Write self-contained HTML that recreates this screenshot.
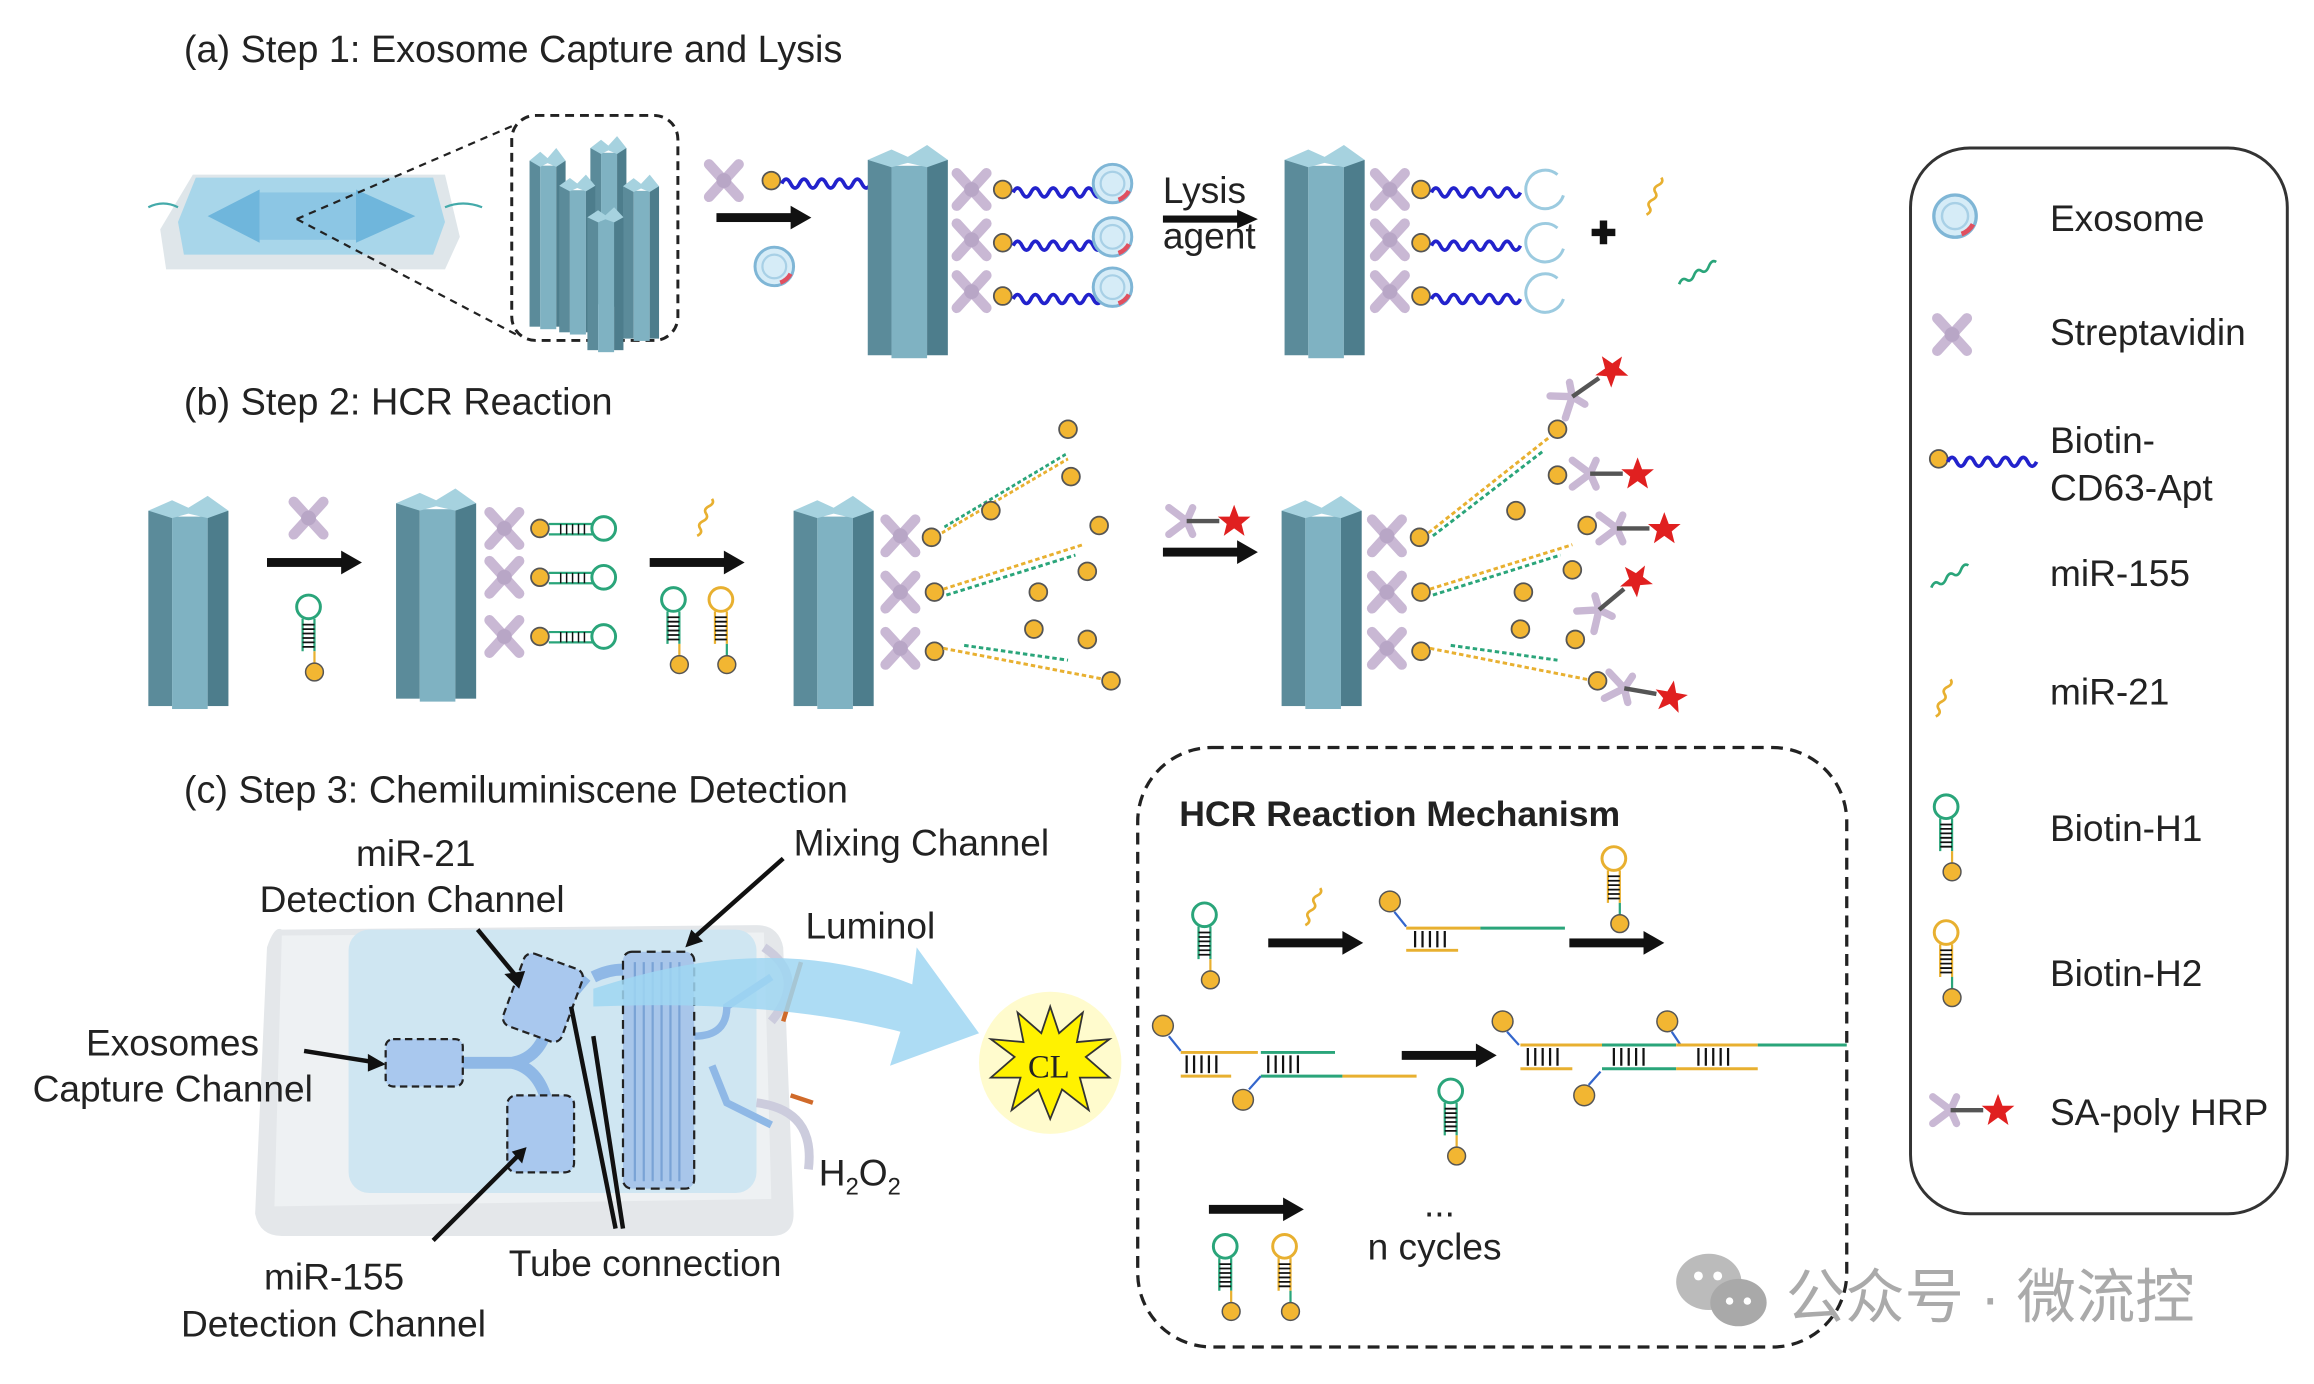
<!DOCTYPE html>
<html><head><meta charset="utf-8"><style>
html,body{margin:0;padding:0;background:#fff}
svg{display:block}
text{font-family:"Liberation Sans","Noto Sans CJK SC",sans-serif;fill:#222}
</style></head><body>
<svg width="2314" height="1384" viewBox="0 0 1560 935" preserveAspectRatio="none" xmlns="http://www.w3.org/2000/svg">
<defs>
<g id="pil">
<rect x="0" y="10" width="16" height="132" fill="#5b8b9a"/>
<rect x="16" y="14" width="24" height="130" fill="#7fb2c2"/>
<rect x="40" y="10" width="14" height="132" fill="#4d7d8c"/>
<polygon points="0,10 16,3 27,8 40,0 54,10 40,15 27,12 16,15" fill="#a6d2df"/>
</g>
<g id="sa"><path d="M-10,-11 L0,0 L-10,11 M10,-11 L0,0 L10,11" stroke="#c9b8d4" stroke-width="7" stroke-linecap="round" fill="none"/><circle r="5" fill="#b8a6c6"/></g>
<circle id="bio" r="6" fill="#f2b632" stroke="#555" stroke-width="1.2"/>
<path id="apt" d="M0,0 q3,-6 6,0 t6,0 t6,0 t6,0 t6,0 t6,0 t6,0 t6,0 t6,0 t6,0" fill="none" stroke="#2222cc" stroke-width="2.5"/>
<g id="exo"><circle r="13" fill="#d6ecf7" stroke="#7fb6d6" stroke-width="2"/><circle r="8" fill="none" stroke="#a8d0e6" stroke-width="1.5"/><path d="M4,11 a13,13 0 0 0 7,-6" stroke="#e05060" stroke-width="3" fill="none"/></g>
<g id="h1"><circle cx="0" cy="0" r="8" fill="#fff" stroke="#2aa57a" stroke-width="2"/><path d="M-4,8 v22 M4,8 v22" stroke="#2aa57a" stroke-width="1.5"/><path d="M-4,12h8M-4,15h8M-4,18h8M-4,21h8M-4,24h8M-4,27h8" stroke="#111" stroke-width="1.2"/><path d="M4,30 v8" stroke="#e8b030" stroke-width="1.5"/><circle cx="4" cy="44" r="6" fill="#f2b632" stroke="#555" stroke-width="1"/></g>
<g id="h2"><circle cx="0" cy="0" r="8" fill="#fff" stroke="#e8b030" stroke-width="2"/><path d="M-4,8 v22 M4,8 v22" stroke="#e8b030" stroke-width="1.5"/><path d="M-4,12h8M-4,15h8M-4,18h8M-4,21h8M-4,24h8M-4,27h8" stroke="#111" stroke-width="1.2"/><path d="M4,30 v8" stroke="#2aa57a" stroke-width="1.5"/><circle cx="4" cy="44" r="6" fill="#f2b632" stroke="#555" stroke-width="1"/></g>
<g id="hrp"><path d="M-12,-9 L0,0 L-12,9 M4,-9 L0,0 L4,9" stroke="#c9b8d4" stroke-width="5" stroke-linecap="round" fill="none"/><path d="M0,0 H22" stroke="#555" stroke-width="3"/><polygon points="32,-11 35,-3 43,-3 37,2 39,10 32,5 25,10 27,2 21,-3 29,-3" fill="#e02020"/></g>
<path id="m21" d="M0,0 q4,-2 2,-5 t2,-5 t2,-5 t2,-5 t2,-5" fill="none" stroke="#e8b030" stroke-width="1.8"/>
<path id="m155" d="M0,0 q2,-5 5,-3 t5,-3 t5,-3 t5,-3 t5,-3" fill="none" stroke="#2aa57a" stroke-width="1.8"/>
<g id="arr"><rect x="0" y="-3" width="52" height="6" fill="#111"/><polygon points="50,-8 64,0 50,8" fill="#111"/></g>
<g id="hyb"><path d="M0,0 l100,-50" stroke="#e8b030" stroke-width="2" stroke-dasharray="3 2"/><path d="M2,-4 l98,-50" stroke="#2aa57a" stroke-width="2" stroke-dasharray="3 2"/></g>
</defs>

<!-- (a) -->
<text x="124" y="42" font-size="25.5">(a) Step 1: Exosome Capture and Lysis</text>
<polygon points="108,155 130,118 300,118 310,160 300,182 112,182" fill="#dfe6ea"/>
<polygon points="120,150 132,120 292,120 300,150 292,172 124,172" fill="#a8d6ea"/>
<polygon points="140,146 175,128 175,164" fill="#6fb6dc"/>
<polygon points="280,146 240,128 240,164" fill="#6fb6dc"/>
<rect x="175" y="130" width="65" height="32" fill="#8cc6e4"/>
<path d="M100,140 q10,-5 20,0 M300,140 q12,-5 25,0" stroke="#4aa" fill="none" stroke-width="1.5"/>
<path d="M200,148 L348,84 M200,148 L348,226" stroke="#222" stroke-width="1.5" stroke-dasharray="5 4"/>
<rect x="345" y="78" width="112" height="152" rx="16" fill="none" stroke="#222" stroke-width="2" stroke-dasharray="6 4"/>
<use href="#pil" transform="translate(357,100) scale(0.45,0.85)"/>
<use href="#pil" transform="translate(398,92) scale(0.45,0.8)"/>
<use href="#pil" transform="translate(377,118) scale(0.45,0.75)"/>
<use href="#pil" transform="translate(420,118) scale(0.45,0.78)"/>
<use href="#pil" transform="translate(396,140) scale(0.45,0.68)"/>
<use href="#sa" transform="translate(488,122)"/><use href="#bio" x="520" y="122"/><use href="#apt" x="527" y="124"/>
<use href="#exo" transform="translate(522,180)"/>
<use href="#arr" transform="translate(483,147)"/>
<use href="#pil" transform="translate(585,98)"/>
<g id="rowA">
<use href="#sa" transform="translate(655,128)"/><use href="#bio" x="676" y="128"/><use href="#apt" x="683" y="130"/>
<use href="#sa" transform="translate(655,162)"/><use href="#bio" x="676" y="164"/><use href="#apt" x="683" y="166"/>
<use href="#sa" transform="translate(655,197)"/><use href="#bio" x="676" y="200"/><use href="#apt" x="683" y="202"/>
</g>
<use href="#exo" transform="translate(750,124)"/><use href="#exo" transform="translate(750,160)"/><use href="#exo" transform="translate(750,194)"/>
<text x="784" y="137" font-size="25">Lysis</text><text x="784" y="168" font-size="25">agent</text>
<use href="#arr" transform="translate(784,148) scale(1,0.8)"/>
<use href="#pil" transform="translate(866,98)"/>
<use href="#rowA" transform="translate(282,0)"/>
<g fill="none" stroke="#9ccbe0" stroke-width="2"><path d="M1050,118 a13,13 0 1 0 4,14"/><path d="M1050,154 a13,13 0 1 0 4,14"/><path d="M1050,188 a13,13 0 1 0 4,14"/></g>
<path d="M1073,157 h16 M1081,149 v16" stroke="#111" stroke-width="5"/>
<use href="#m21" transform="translate(1110,145)"/>
<use href="#m155" transform="translate(1132,192)"/>

<!-- (b) -->
<text x="124" y="280" font-size="25.5">(b) Step 2: HCR Reaction</text>
<use href="#pil" transform="translate(100,335)"/>
<use href="#sa" transform="translate(208,350)"/>
<use href="#arr" transform="translate(180,380)"/>
<use href="#h1" transform="translate(208,410)"/>
<use href="#pil" transform="translate(267,330)"/>
<g id="rowB">
<use href="#sa" transform="translate(340,357)"/><use href="#bio" x="364" y="357"/>
<path d="M370,354 h30 M370,361 h30" stroke="#2aa57a" stroke-width="1.5"/><path d="M378,354v7M382,354v7M386,354v7M390,354v7M394,354v7" stroke="#111"/><circle cx="407" cy="357" r="8" fill="#fff" stroke="#2aa57a" stroke-width="2"/>
</g>
<use href="#rowB" transform="translate(0,33)"/><use href="#rowB" transform="translate(0,73)"/>
<use href="#m21" transform="translate(470,362)"/>
<use href="#arr" transform="translate(438,380)"/>
<use href="#h1" transform="translate(454,405)"/><use href="#h2" transform="translate(486,405)"/>
<use href="#pil" transform="translate(535,335)"/>
<g id="rowC">
<use href="#sa" transform="translate(607,362)"/><use href="#bio" x="628" y="363"/>
<use href="#hyb" transform="translate(635,360) scale(0.85,1)"/>
<use href="#bio" x="720" y="290"/><use href="#bio" x="722" y="322"/><use href="#bio" x="668" y="345"/>
</g>
<use href="#sa" transform="translate(607,400)"/><use href="#bio" x="630" y="400"/>
<path d="M636,398 L730,368" stroke="#e8b030" stroke-width="2" stroke-dasharray="3 2"/><path d="M638,402 L725,375" stroke="#2aa57a" stroke-width="2" stroke-dasharray="3 2"/>
<use href="#bio" x="741" y="355"/><use href="#bio" x="733" y="386"/><use href="#bio" x="700" y="400"/>
<use href="#sa" transform="translate(607,438)"/><use href="#bio" x="630" y="440"/>
<path d="M636,438 L750,460" stroke="#e8b030" stroke-width="2" stroke-dasharray="3 2"/><path d="M650,436 L720,446" stroke="#2aa57a" stroke-width="2" stroke-dasharray="3 2"/>
<use href="#bio" x="697" y="425"/><use href="#bio" x="733" y="432"/><use href="#bio" x="749" y="460"/>
<use href="#hrp" transform="translate(800,352)"/>
<use href="#arr" transform="translate(784,373)"/>
<use href="#pil" transform="translate(864,335)"/>
<use href="#sa" transform="translate(935,362)"/><use href="#bio" x="957" y="363"/>
<path d="M963,360 L1045,295" stroke="#e8b030" stroke-width="2" stroke-dasharray="3 2"/><path d="M966,362 L1040,305" stroke="#2aa57a" stroke-width="2" stroke-dasharray="3 2"/>
<use href="#bio" x="1050" y="290"/><use href="#bio" x="1050" y="321"/><use href="#bio" x="1022" y="345"/>
<use href="#sa" transform="translate(935,400)"/><use href="#bio" x="958" y="400"/>
<path d="M964,398 L1060,368" stroke="#e8b030" stroke-width="2" stroke-dasharray="3 2"/><path d="M966,402 L1052,375" stroke="#2aa57a" stroke-width="2" stroke-dasharray="3 2"/>
<use href="#bio" x="1070" y="355"/><use href="#bio" x="1060" y="385"/><use href="#bio" x="1027" y="400"/>
<use href="#sa" transform="translate(935,438)"/><use href="#bio" x="958" y="440"/>
<path d="M964,438 L1075,460" stroke="#e8b030" stroke-width="2" stroke-dasharray="3 2"/><path d="M978,436 L1050,446" stroke="#2aa57a" stroke-width="2" stroke-dasharray="3 2"/>
<use href="#bio" x="1025" y="425"/><use href="#bio" x="1062" y="432"/><use href="#bio" x="1077" y="460"/>
<use href="#hrp" transform="translate(1060,268) rotate(-35)"/>
<use href="#hrp" transform="translate(1072,320)"/>
<use href="#hrp" transform="translate(1090,357)"/>
<use href="#hrp" transform="translate(1078,412) rotate(-40)"/>
<use href="#hrp" transform="translate(1095,465) rotate(10)"/>

<!-- legend -->
<rect x="1288" y="100" width="254" height="720" rx="40" fill="#fff" stroke="#333" stroke-width="2"/>
<use href="#exo" transform="translate(1318,146) scale(1.1)"/>
<text x="1382" y="156" font-size="25">Exosome</text>
<use href="#sa" transform="translate(1316,226)"/>
<text x="1382" y="233" font-size="25">Streptavidin</text>
<use href="#bio" x="1307" y="310"/><use href="#apt" x="1313" y="312"/>
<text x="1382" y="306" font-size="25">Biotin-</text><text x="1382" y="338" font-size="25">CD63-Apt</text>
<use href="#m155" transform="translate(1302,397)"/>
<text x="1382" y="396" font-size="25">miR-155</text>
<use href="#m21" transform="translate(1305,484)"/>
<text x="1382" y="476" font-size="25">miR-21</text>
<use href="#h1" transform="translate(1312,545)"/>
<text x="1382" y="568" font-size="25">Biotin-H1</text>
<use href="#h2" transform="translate(1312,630)"/>
<text x="1382" y="666" font-size="25">Biotin-H2</text>
<use href="#hrp" transform="translate(1315,750)"/>
<text x="1382" y="760" font-size="25">SA-poly HRP</text>

<!-- (c) -->
<text x="124" y="542" font-size="25.5">(c) Step 3: Chemiluminiscene Detection</text>
<path d="M190,628 Q185,625 180,640 L172,820 Q175,835 190,835 L520,835 Q535,835 535,820 L528,640 Q525,625 510,625 Z" fill="#e4e7ea"/>
<path d="M190,632 L515,630 L520,810 L185,815 Z" fill="#eef1f3"/>
<rect x="235" y="628" width="275" height="178" rx="14" fill="#cfe6f2"/>
<path d="M310,718 L345,718 Q365,715 370,690 L395,660 M345,718 Q365,722 370,750 L380,790 M400,660 Q420,650 440,660" stroke="#8fb8e6" stroke-width="8" fill="none"/>
<path d="M468,700 Q490,700 490,680 L520,660 M480,720 L490,745 L520,760" stroke="#8fb8e6" stroke-width="5" fill="none"/>
<rect x="260" y="702" width="52" height="32" rx="5" fill="#a9c8ee" stroke="#222" stroke-width="1.5" stroke-dasharray="5 3"/>
<rect x="345" y="648" width="42" height="52" rx="6" fill="#a9c8ee" stroke="#222" stroke-width="1.5" stroke-dasharray="5 3" transform="rotate(20 366 674)"/>
<rect x="342" y="740" width="45" height="52" rx="6" fill="#a9c8ee" stroke="#222" stroke-width="1.5" stroke-dasharray="5 3"/>
<rect x="420" y="643" width="48" height="160" rx="6" fill="#a8c6ea" stroke="#222" stroke-width="1.5" stroke-dasharray="6 4"/>
<path d="M428,650v148M434,650v148M440,650v148M446,650v148M452,650v148M458,650v148" stroke="#7aa3d6" stroke-width="1.5"/>
<path d="M515,640 Q545,660 520,690" stroke="#ccd" stroke-width="6" fill="none"/>
<path d="M510,745 Q550,750 545,790" stroke="#ccd" stroke-width="6" fill="none"/>
<path d="M540,650 L528,690 M548,745 L533,740" stroke="#d06a2a" stroke-width="3"/>
<path d="M400,668 Q520,628 615,665 L618,640 L660,698 L600,720 L607,697 Q520,675 400,680 Z" fill="#9fd6f2" opacity="0.85"/>
<circle cx="708" cy="718" r="48" fill="#fffac0" opacity="0.8"/>
<polygon points="708,680 714,698 730,684 726,704 748,702 732,714 748,728 728,728 734,750 716,736 708,756 700,736 682,750 688,728 668,728 684,714 668,702 690,704 686,684 702,698" fill="#fff200" stroke="#333" stroke-width="1.2"/>
<text x="693" y="728" font-size="22" style="font-family:'Liberation Serif',serif">CL</text>
<text x="240" y="585" font-size="25">miR-21</text>
<text x="175" y="616" font-size="25">Detection Channel</text>
<text x="535" y="578" font-size="25">Mixing Channel</text>
<text x="543" y="634" font-size="25">Luminol</text>
<text x="58" y="713" font-size="25">Exosomes</text>
<text x="22" y="744" font-size="25">Capture Channel</text>
<text x="552" y="801" font-size="25">H<tspan font-size="16" dy="6">2</tspan><tspan dy="-6">O</tspan><tspan font-size="16" dy="6">2</tspan></text>
<text x="178" y="871" font-size="25">miR-155</text>
<text x="122" y="903" font-size="25">Detection Channel</text>
<text x="343" y="862" font-size="25">Tube connection</text>
<g stroke="#111" stroke-width="3" fill="none">
<path d="M322,628 L350,662"/><path d="M528,580 L465,636"/><path d="M205,710 L255,718"/>
<path d="M292,838 L350,780"/><path d="M415,830 L385,680"/><path d="M420,830 L400,700"/>
</g>
<polygon points="350,668 340,658 354,656" fill="#111"/><polygon points="462,640 466,628 474,636" fill="#111"/>
<polygon points="260,719 248,712 248,724" fill="#111"/><polygon points="355,775 345,778 352,786" fill="#111"/>

<!-- HCR box -->
<rect x="767" y="505" width="478" height="405" rx="50" fill="none" stroke="#222" stroke-width="2.2" stroke-dasharray="8 5"/>
<text x="795" y="558" font-size="24" font-weight="bold">HCR Reaction Mechanism</text>
<use href="#h1" transform="translate(812,618)"/>
<use href="#m21" transform="translate(880,625)"/>
<use href="#arr" transform="translate(855,637)"/>
<circle cx="937" cy="609" r="7" fill="#f2b632" stroke="#555"/>
<path d="M940,616 l8,10" stroke="#3366cc" stroke-width="1.5"/>
<path d="M948,627 H998" stroke="#e8b030" stroke-width="2"/><path d="M998,627 H1055" stroke="#2aa57a" stroke-width="2"/>
<path d="M948,642 H983" stroke="#e8b030" stroke-width="2"/>
<path d="M954,629v11M959,629v11M964,629v11M969,629v11M974,629v11" stroke="#111" stroke-width="1.5"/>
<use href="#h2" transform="translate(1088,580)"/>
<use href="#arr" transform="translate(1058,637)"/>
<circle cx="784" cy="693" r="7" fill="#f2b632" stroke="#555"/>
<path d="M788,700 l8,10" stroke="#3366cc" stroke-width="1.5"/>
<path d="M796,711 H848" stroke="#e8b030" stroke-width="2"/><path d="M850,711 H900" stroke="#2aa57a" stroke-width="2"/>
<path d="M796,727 H830" stroke="#e8b030" stroke-width="2"/><path d="M850,727 H905" stroke="#2aa57a" stroke-width="2"/><path d="M905,727 H955" stroke="#e8b030" stroke-width="2"/>
<path d="M800,713v12M805,713v12M810,713v12M815,713v12M820,713v12M855,713v12M860,713v12M865,713v12M870,713v12M875,713v12" stroke="#111" stroke-width="1.5"/>
<circle cx="838" cy="743" r="7" fill="#f2b632" stroke="#555"/><path d="M842,736 l8,-9" stroke="#3366cc" stroke-width="1.5"/>
<use href="#arr" transform="translate(945,713)"/>
<use href="#h1" transform="translate(978,737)"/>
<circle cx="1013" cy="690" r="7" fill="#f2b632" stroke="#555"/><path d="M1016,697 l8,9" stroke="#3366cc" stroke-width="1.5"/>
<circle cx="1124" cy="690" r="7" fill="#f2b632" stroke="#555"/><path d="M1127,697 l6,9" stroke="#3366cc" stroke-width="1.5"/>
<circle cx="1068" cy="740" r="7" fill="#f2b632" stroke="#555"/><path d="M1071,733 l8,-9" stroke="#3366cc" stroke-width="1.5"/>
<path d="M1025,706 H1080" stroke="#e8b030" stroke-width="2"/><path d="M1080,706 H1130" stroke="#2aa57a" stroke-width="2"/><path d="M1130,706 H1185" stroke="#e8b030" stroke-width="2"/><path d="M1185,706 H1245" stroke="#2aa57a" stroke-width="2"/>
<path d="M1025,722 H1060" stroke="#e8b030" stroke-width="2"/><path d="M1080,722 H1130" stroke="#2aa57a" stroke-width="2"/><path d="M1130,722 H1185" stroke="#e8b030" stroke-width="2"/>
<path d="M1030,708v12M1035,708v12M1040,708v12M1045,708v12M1050,708v12M1088,708v12M1093,708v12M1098,708v12M1103,708v12M1108,708v12M1145,708v12M1150,708v12M1155,708v12M1160,708v12M1165,708v12" stroke="#111" stroke-width="1.5"/>
<use href="#arr" transform="translate(815,817)"/>
<use href="#h1" transform="translate(826,842)"/><use href="#h2" transform="translate(866,842)"/>
<text x="960" y="822" font-size="25">...</text>
<text x="922" y="851" font-size="25">n cycles</text>

<!-- watermark -->
<ellipse cx="1152" cy="866" rx="22" ry="19" fill="#bbb"/><ellipse cx="1172" cy="880" rx="19" ry="16" fill="#a9a9a9"/>
<circle cx="1145" cy="862" r="3" fill="#fff"/><circle cx="1158" cy="862" r="3" fill="#fff"/><circle cx="1166" cy="879" r="2.5" fill="#fff"/><circle cx="1178" cy="879" r="2.5" fill="#fff"/>
<text x="1204" y="890" font-size="40" style="fill:#aaa">公众号 · 微流控</text>
</svg>
</body></html>
